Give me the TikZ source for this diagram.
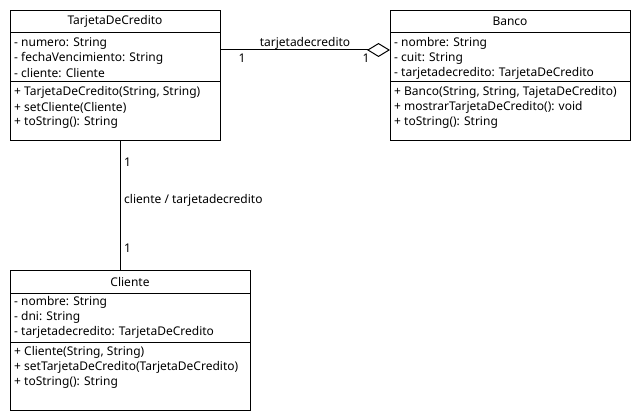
\documentclass[tikz,border=0pt]{standalone}
\usepackage{fontspec}
\setmainfont{Noto Sans}
\usetikzlibrary{arrows.meta}
\begin{document}
\begin{tikzpicture}[x=1pt,y=-1pt,
  box/.style={draw,line width=1pt,anchor=north west,inner sep=0pt},
  txt/.style={anchor=west,inner sep=0pt,font=\fontsize{12}{14}\selectfont},
  ttl/.style={anchor=center,inner sep=0pt,font=\fontsize{12}{14}\selectfont},
  sep/.style={line width=1pt},
  conn/.style={line width=1pt}]
\useasboundingbox (0,0) rectangle (640,420);
% TarjetaDeCredito
\node[box,minimum width=210pt,minimum height=130pt] (tc) at (10,10) {};
\draw[sep] (10,33) -- (220,33);
\draw[sep] (10,82) -- (220,82);
\node[ttl] (tct) at (115,21.5) {TarjetaDeCredito};
\node[txt] (tca1) at (14,43.5) {- numero: String};
\node[txt] (tca2) at (14,58.5) {- fechaVencimiento: String};
\node[txt] (tca3) at (14,73.5) {- cliente: Cliente};
\node[txt] (tcm1) at (14,92.5) {+ TarjetaDeCredito(String, String)};
\node[txt] (tcm2) at (14,107.5) {+ setCliente(Cliente)};
\node[txt] (tcm3) at (14,122.5) {+ toString(): String};
% Banco
\node[box,minimum width=240pt,minimum height=130pt] (bc) at (390,10) {};
\draw[sep] (390,33) -- (630,33);
\draw[sep] (390,82) -- (630,82);
\node[ttl] (bct) at (510,21.5) {Banco};
\node[txt] (bca1) at (394,43.5) {- nombre: String};
\node[txt] (bca2) at (394,58.5) {- cuit: String};
\node[txt] (bca3) at (394,73.5) {- tarjetadecredito: TarjetaDeCredito};
\node[txt] (bcm1) at (394,92.5) {+ Banco(String, String, TajetaDeCredito)};
\node[txt] (bcm2) at (394,107.5) {+ mostrarTarjetaDeCredito(): void};
\node[txt] (bcm3) at (394,122.5) {+ toString(): String};
% Cliente
\node[box,minimum width=240pt,minimum height=140pt] (cl) at (10,270) {};
\draw[sep] (10,293) -- (250,293);
\draw[sep] (10,342) -- (250,342);
\node[ttl] (clt) at (130,282) {Cliente};
\node[txt] (cla1) at (14,302.5) {- nombre: String};
\node[txt] (cla2) at (14,317.5) {- dni: String};
\node[txt] (cla3) at (14,332.5) {- tarjetadecredito: TarjetaDeCredito};
\node[txt] (clm1) at (14,352.5) {+ Cliente(String, String)};
\node[txt] (clm2) at (14,367.5) {+ setTarjetaDeCredito(TarjetaDeCredito)};
\node[txt] (clm3) at (14,382.5) {+ toString(): String};
% connectors
\coordinate (p1) at (220,50);
\coordinate (p2) at (390,50);
\draw[conn,-{Diamond[open,length=23pt,width=14pt,line width=1pt]}] (p1) -- (p2);
\node[ttl] (l1) at (305,43) {tarjetadecredito};
\node[ttl] (m1) at (242,58.5) {1};
\node[ttl] (m2) at (366,58.5) {1};
\coordinate (q1) at (120,140);
\coordinate (q2) at (120,270);
\draw[conn] (q1) -- (q2);
\node[txt] (m3) at (124,162) {1};
\node[txt] (l2) at (124,200.5) {cliente / tarjetadecredito};
\node[txt] (m4) at (124,248) {1};
\end{tikzpicture}
\end{document}
